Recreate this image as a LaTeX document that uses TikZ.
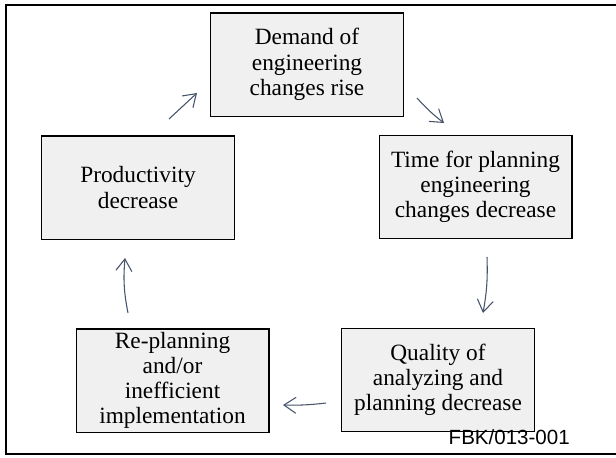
\documentclass[tikz,border=0pt]{standalone}
\usepackage{fontspec}
\setmainfont{Liberation Serif}
\newfontfamily\labelsans{Liberation Sans}
\usetikzlibrary{arrows.meta}
\definecolor{boxfill}{HTML}{F0F0F0}
\definecolor{arrowcol}{HTML}{46536A}
\begin{document}
\begin{tikzpicture}[x=0.75pt,y=-0.75pt,
  stagebox/.style={draw=black,line width=1pt,fill=boxfill,minimum width=144.5pt,minimum height=77.5pt,
    inner sep=0pt,align=center,font=\fontsize{17.5}{18.9}\selectfont},
  cyclearrow/.style={draw=arrowcol,line width=0.8pt,-{Straight Barb[length=9pt,width=12pt,line width=0.8pt]}},
  frameline/.style={line width=1.6pt}]
\useasboundingbox (0,0) rectangle (616,457);
\draw[frameline] (617,5) -- (6,5) -- (6,454) -- (617,454);
\node[stagebox] (demand) at (307,64.5) {Demand of\\engineering\\changes rise};
\node[stagebox] (time) at (475.5,187) {Time for planning\\engineering\\changes decrease};
\node[stagebox] (quality) at (438,380) {Quality of\\analyzing and\\planning decrease};
\node[stagebox] (replan) at (172.5,380.5) {Re-planning\\and/or\\inefficient\\implementation};
\node[stagebox] (prod) at (138,187.5) {Productivity\\decrease};
\node[anchor=base east,inner sep=0pt,font=\labelsans\fontsize{15.4}{16}\selectfont] (code) at (570,444) {FBK/013-001};
\coordinate (a1s) at (169,119); \coordinate (a1e) at (197,93);
\coordinate (a2s) at (417,98);  \coordinate (a2e) at (444,123);
\coordinate (a3s) at (487,257); \coordinate (a3e) at (483,313);
\coordinate (a4s) at (326,403); \coordinate (a4e) at (283,405);
\coordinate (a5s) at (128,313); \coordinate (a5e) at (125,258);
\draw[cyclearrow] (a1s) -- (a1e);
\draw[cyclearrow] (a2s) to[bend right=5] (a2e);
\draw[cyclearrow] (a3s) to[bend left=6] (a3e);
\draw[cyclearrow] (a4s) to[bend left=4] (a4e);
\draw[cyclearrow] (a5s) to[bend left=8] (a5e);
\end{tikzpicture}
\end{document}
